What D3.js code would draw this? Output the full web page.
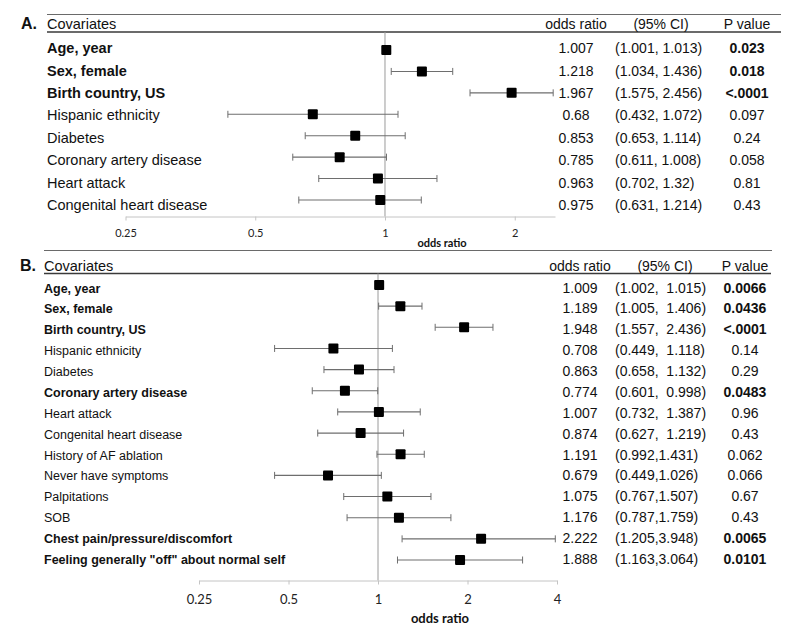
<!DOCTYPE html>
<html><head><meta charset="utf-8">
<script src="https://cdn.jsdelivr.net/npm/d3@7"></script>
<style>
body{margin:0;background:#fff}
svg text{font-family:"Liberation Sans",Arial,sans-serif;fill:#111}
.ax text{font-family:Lato,"Open Sans",sans-serif}
</style>
</head><body>
<svg id="c" width="800" height="634"></svg>
<script>
// ---------- data: panel A ----------
const labelsA = ["Age, year","Sex, female","Birth country, US","Hispanic ethnicity","Diabetes","Coronary artery disease","Heart attack","Congenital heart disease"];
const orA = [1.007,1.218,1.967,0.68,0.853,0.785,0.963,0.975];
const loA = [1.001,1.034,1.575,0.432,0.653,0.611,0.702,0.631];
const hiA = [1.013,1.436,2.456,1.072,1.114,1.008,1.32,1.214];
const ciTextA = ["(1.001, 1.013)","(1.034, 1.436)","(1.575, 2.456)","(0.432, 1.072)","(0.653, 1.114)","(0.611, 1.008)","(0.702, 1.32)","(0.631, 1.214)"];
const pA = ["0.023","0.018","<.0001","0.097","0.24","0.058","0.81","0.43"];
const boldLabelA = [true,true,true,false,false,false,false,false];
const boldPA = [true,true,true,false,false,false,false,false];
const ticksA = [0.25,0.5,1,2];

// ---------- data: panel B ----------
const labelsB = ["Age, year","Sex, female","Birth country, US","Hispanic ethnicity","Diabetes","Coronary artery disease","Heart attack","Congenital heart disease","History of AF ablation","Never have symptoms","Palpitations","SOB","Chest pain/pressure/discomfort","Feeling generally \"off\" about normal self"];
const orB = [1.009,1.189,1.948,0.708,0.863,0.774,1.007,0.874,1.191,0.679,1.075,1.176,2.222,1.888];
const loB = [1.002,1.005,1.557,0.449,0.658,0.601,0.732,0.627,0.992,0.449,0.767,0.787,1.205,1.163];
const hiB = [1.015,1.406,2.436,1.118,1.132,0.998,1.387,1.219,1.431,1.026,1.507,1.759,3.948,3.064];
const ciTextB = ["(1.002,  1.015)","(1.005,  1.406)","(1.557,  2.436)","(0.449,  1.118)","(0.658,  1.132)","(0.601,  0.998)","(0.732,  1.387)","(0.627,  1.219)","(0.992,1.431)","(0.449,1.026)","(0.767,1.507)","(0.787,1.759)","(1.205,3.948)","(1.163,3.064)"];
const pB = ["0.0066","0.0436","<.0001","0.14","0.29","0.0483","0.96","0.43","0.062","0.066","0.67","0.43","0.0065","0.0101"];
const boldLabelB = [true,true,true,false,false,true,false,false,false,false,false,false,true,true];
const boldPB = [true,true,true,false,false,true,false,false,false,false,false,false,true,true];
const ticksB = [0.25,0.5,1,2,4];

const headers = ["Covariates","odds ratio","(95% CI)","P value"];
const axisTitle = "odds ratio";

const svg = d3.select("#c");

function panel(o) {
  const g = svg.append("g");
  const n = o.labels.length;
  const x = d3.scaleLog().base(2).domain(o.domain).range(o.range);
  const yMark = d3.scalePoint().domain(d3.range(n)).range(o.markRange);
  const yText = d3.scalePoint().domain(d3.range(n)).range(o.textRange);

  // header lines
  g.append("line").attr("x1", o.left).attr("x2", o.topRight).attr("y1", o.topY).attr("y2", o.topY)
    .attr("stroke", "#6a6a6a").attr("stroke-width", 1.2);
  g.append("line").attr("x1", o.left).attr("x2", o.underRight).attr("y1", o.underY).attr("y2", o.underY)
    .attr("stroke", "#3a3a3a").attr("stroke-width", 1.6);

  g.append("text").attr("x", o.letterX).attr("y", o.headY).text(o.letter)
    .style("font-weight", "bold").style("font-size", "16px");
  g.append("text").attr("x", o.left).attr("y", o.headY).text(headers[0]).style("font-size", "14.5px");
  g.append("text").attr("x", o.colOR).attr("y", o.headY).attr("text-anchor", "middle").text(headers[1]).style("font-size", "14px");
  g.append("text").attr("x", o.colCIh).attr("y", o.headY).attr("text-anchor", "middle").text(headers[2]).style("font-size", "14px");
  g.append("text").attr("x", o.colP).attr("y", o.headY).attr("text-anchor", "middle").text(headers[3]).style("font-size", "14px");

  // reference line at 1
  g.append("line").attr("x1", x(1)).attr("x2", x(1)).attr("y1", o.underY).attr("y2", o.axisY)
    .attr("stroke", "#9a9a9a").attr("stroke-width", 1);

  // axis
  const ax = g.append("g").attr("class", "ax").attr("transform", `translate(0,${o.axisY})`)
    .call(d3.axisBottom(x).tickValues(o.ticks).tickFormat(d => String(d))
      .tickSizeInner(4).tickSizeOuter(0).tickPadding(o.tickPad));
  ax.select(".domain").attr("stroke", "#c4c4c4");
  ax.selectAll(".tick line").attr("stroke", "#c4c4c4");
  ax.selectAll(".tick text").style("font-size", o.tickFont).style("fill", "#222").attr("font-family", null);
  g.append("text").attr("class", "ax").attr("x", o.titleX).attr("y", o.titleY).attr("text-anchor", "middle")
    .text(axisTitle).style("font-weight", "bold").style("font-size", o.titleFont).style("font-family", "Lato,sans-serif");

  const rows = d3.range(n);
  // labels
  g.selectAll(".lab").data(rows).join("text").attr("class", "lab")
    .attr("x", o.left).attr("y", i => yText(i)).text(i => o.labels[i])
    .style("font-size", o.labelFont).style("font-weight", i => o.boldLabel[i] ? "bold" : "normal");
  g.selectAll(".orv").data(rows).join("text").attr("class", "orv")
    .attr("x", o.colOR).attr("y", i => yText(i)).attr("text-anchor", "middle").text(i => String(o.or[i]))
    .style("font-size", "14px");
  g.selectAll(".civ").data(rows).join("text").attr("class", "civ")
    .attr("x", o.colCI).attr("y", i => yText(i)).text(i => o.ciText[i])
    .style("font-size", "14px").style("white-space", "pre").attr("xml:space", "preserve");
  g.selectAll(".pv").data(rows).join("text").attr("class", "pv")
    .attr("x", o.colP).attr("y", i => yText(i)).attr("text-anchor", "middle").text(i => o.p[i])
    .style("font-size", "14px").style("font-weight", i => o.boldP[i] ? "bold" : "normal");

  // error bars
  const eb = g.selectAll(".eb").data(rows).join("g").attr("class", "eb");
  eb.append("line").attr("x1", i => x(o.lo[i])).attr("x2", i => x(o.hi[i]))
    .attr("y1", i => yMark(i)).attr("y2", i => yMark(i)).attr("stroke", "#6e6e6e").attr("stroke-width", 1.1);
  eb.append("line").attr("x1", i => x(o.lo[i])).attr("x2", i => x(o.lo[i]))
    .attr("y1", i => yMark(i) - 3.5).attr("y2", i => yMark(i) + 3.5).attr("stroke", "#6e6e6e");
  eb.append("line").attr("x1", i => x(o.hi[i])).attr("x2", i => x(o.hi[i]))
    .attr("y1", i => yMark(i) - 3.5).attr("y2", i => yMark(i) + 3.5).attr("stroke", "#6e6e6e");
  eb.append("rect").attr("x", i => x(o.or[i]) - 5).attr("y", i => yMark(i) - 5)
    .attr("width", 10).attr("height", 10).attr("rx", 1).attr("fill", "#000");
}

panel({
  letter: "A.", labels: labelsA, or: orA, lo: loA, hi: hiA, ciText: ciTextA, p: pA,
  boldLabel: boldLabelA, boldP: boldPA, ticks: ticksA,
  domain: [0.25, 2.48], range: [125.5, 555],
  markRange: [50, 200], textRange: [53.3, 210],
  left: 47, letterX: 21, topRight: 781, underRight: 781, topY: 14.5, underY: 32, headY: 29,
  colOR: 576, colCIh: 661, colCI: 615, colP: 747,
  axisY: 216.5, tickPad: 9, tickFont: "11px", titleX: 442, titleY: 247, titleFont: "11px",
  labelFont: "14.5px"
});

panel({
  letter: "B.", labels: labelsB, or: orB, lo: loB, hi: hiB, ciText: ciTextB, p: pB,
  boldLabel: boldLabelB, boldP: boldPB, ticks: ticksB,
  domain: [0.25, 4], range: [199, 557],
  markRange: [285, 560], textRange: [292.5, 564],
  left: 44, letterX: 20, topRight: 772, underRight: 771, topY: 250.5, underY: 273.5, headY: 270.5,
  colOR: 580, colCIh: 665, colCI: 615, colP: 745,
  axisY: 580.5, tickPad: 10, tickFont: "13px", titleX: 440, titleY: 623, titleFont: "13px",
  labelFont: "12.5px"
});
</script>
</body></html>
